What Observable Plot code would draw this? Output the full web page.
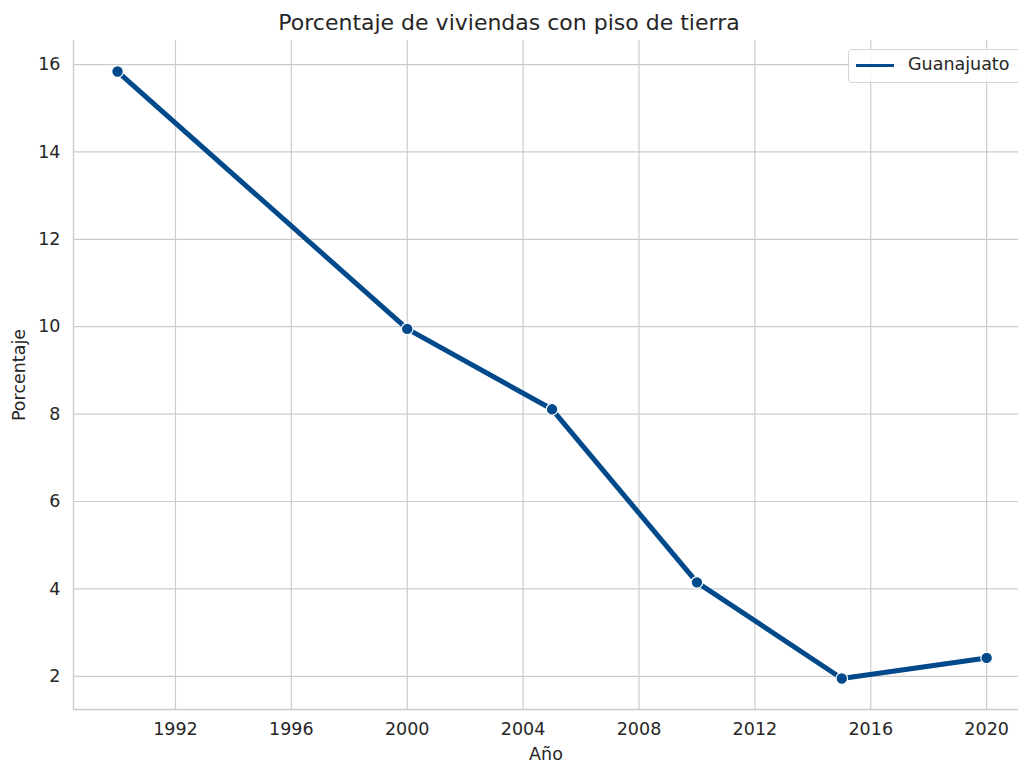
<!DOCTYPE html>
<html>
<head>
<meta charset="utf-8">
<script src="https://cdn.jsdelivr.net/npm/d3@7"></script>
<script src="https://cdn.jsdelivr.net/npm/@observablehq/plot@0.6"></script>
<style>
  html, body { margin: 0; padding: 0; background: #fff; }
  body { width: 1018px; height: 763px; position: relative; font-family: "DejaVu Sans", sans-serif; overflow: hidden; }
  #title { height: 30px; line-height: 45px; text-align: center; font-size: 22px; color: #262626; }
  #legend { position: absolute; left: 848px; top: 49px; width: 180px; height: 34px; border: 1px solid #d6d6d6; border-radius: 4px; background: rgba(255,255,255,0.85); box-sizing: border-box; }
  #legend .sw { position: absolute; left: 7px; top: 14px; width: 38px; height: 3px; background: #004a8b; }
  #legend .lb { position: absolute; left: 59px; top: 4px; font-size: 17.5px; color: #262626; }
</style>
</head>
<body>
<div id="title">Porcentaje de viviendas con piso de tierra</div>
<div id="chart"></div>
<div id="legend"><div class="sw"></div><div class="lb">Guanajuato</div></div>
<script>
const years = [1990, 2000, 2005, 2010, 2015, 2020];
const values = [15.84, 9.95, 8.11, 4.15, 1.95, 2.42];
const xTicks = [1992, 1996, 2000, 2004, 2008, 2012, 2016, 2020];
const yTicks = [2, 4, 6, 8, 10, 12, 14, 16];
const seriesName = "Guanajuato";

const data = years.map((y, i) => ({year: y, value: values[i], state: seriesName}));
const color = "#004a8b";
const xDomain = [1988.48, 2021.1];
const yDomain = [1.24, 16.55];

const chart = Plot.plot({
  width: 1018,
  height: 733,
  marginTop: 10,
  marginBottom: 54,
  marginLeft: 73,
  marginRight: 0,
  style: {fontFamily: "DejaVu Sans, sans-serif", fontSize: "17.5px", color: "#262626", background: "#fff", overflow: "visible"},
  x: {domain: xDomain, ticks: xTicks, tickFormat: d => String(d)},
  y: {domain: yDomain, ticks: yTicks},
  marks: [
    Plot.gridX(xTicks, {stroke: "#cccccc", strokeOpacity: 1, strokeWidth: 1.2}),
    Plot.gridY(yTicks, {stroke: "#cccccc", strokeOpacity: 1, strokeWidth: 1.2}),
    Plot.ruleX([xDomain[0]], {stroke: "#cccccc", strokeWidth: 1.4}),
    Plot.ruleY([yDomain[0]], {stroke: "#cccccc", strokeWidth: 1.4}),
    Plot.axisX(xTicks, {tickSize: 0, tickPadding: 13, fontSize: 17.5, fill: "#262626", tickFormat: d => String(d), label: "Año", labelAnchor: "center", labelArrow: "none", labelOffset: 50}),
    Plot.axisY(yTicks, {tickSize: 0, tickPadding: 13, fontSize: 17.5, fill: "#262626", label: "Porcentaje", labelAnchor: "center", labelArrow: "none", labelOffset: 61}),
    Plot.line(data, {x: "year", y: "value", stroke: color, strokeWidth: 5}),
    Plot.dot(data, {x: "year", y: "value", fill: color, stroke: "white", strokeWidth: 1.2, r: 5.8})
  ]
});
document.getElementById("chart").appendChild(chart);
</script>
</body>
</html>
